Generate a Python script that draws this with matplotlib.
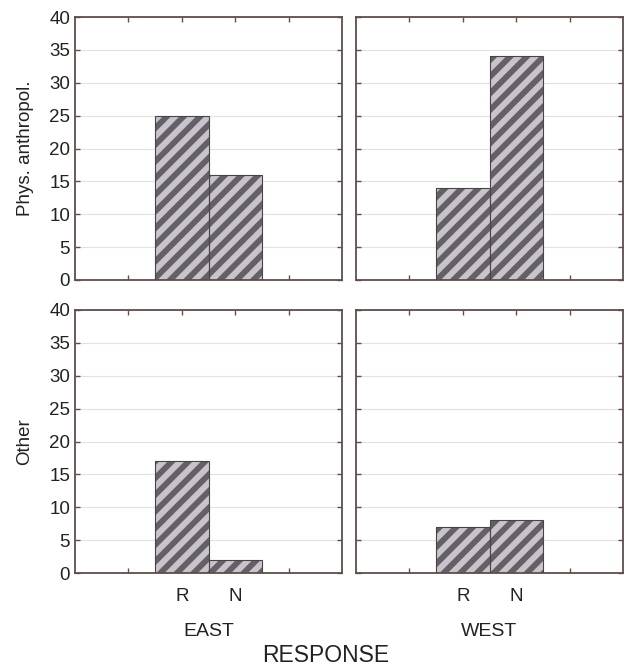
import matplotlib.pyplot as plt

plt.rcParams['font.family'] = ['Liberation Sans', 'DejaVu Sans']
plt.rcParams['hatch.linewidth'] = 4.2

# counts per response, by region (columns) and field (rows)
responses = ['R', 'N']
regions = ['EAST', 'WEST']
fields = ['Phys. anthropol.', 'Other']
phys_east = [25, 16]
phys_west = [14, 34]
other_east = [17, 2]
other_west = [7, 8]

counts = [[phys_east, phys_west], [other_east, other_west]]

spine_col = '#5e4f4b'
stripe_col = '#646068'
fill_col = '#cbc3cc'
text_col = '#222222'

fig = plt.figure(figsize=(6.29, 6.70), dpi=100)
lefts = [75 / 629, 356 / 629]
bottoms = [1 - 280 / 670, 1 - 573 / 670]
w = 267 / 629
h = 263 / 670

xpos = [2, 3]
for r in range(2):
    for c in range(2):
        ax = fig.add_axes([lefts[c], bottoms[r], w, h])
        vals = counts[r][c]
        # striped fill, then a thin outline on top
        ax.bar(xpos, vals, width=1.0, color=fill_col, edgecolor=stripe_col,
               hatch='//', linewidth=0, zorder=2)
        ax.bar(xpos, vals, width=1.0, fill=False, edgecolor='#4a4448',
               linewidth=0.8, zorder=3)
        ax.set_xlim(0, 5)
        ax.set_ylim(0, 40)
        ax.set_yticks(range(0, 41, 5))
        ax.set_xticks([1, 2, 3, 4])
        ax.yaxis.grid(True, color='#e2e2e2', linewidth=0.8, zorder=0)
        ax.set_axisbelow(True)
        for s in ax.spines.values():
            s.set_color(spine_col)
            s.set_linewidth(1.3)
        ax.tick_params(direction='in', length=3.5, width=1.0, color=spine_col,
                       top=True, right=True, labelsize=13.5, labelcolor=text_col)
        if r == 1:
            ax.set_xticklabels(['', responses[0], responses[1], ''])
            ax.tick_params(axis='x', pad=11, labelsize=13.5)
            ax.set_xlabel(regions[c], fontsize=14, color=text_col, labelpad=13)
        else:
            ax.set_xticklabels([])
        if c == 0:
            ax.set_ylabel(fields[r], fontsize=13.5, color=text_col)
            ax.yaxis.set_label_coords(-0.155, 0.5)
        else:
            ax.set_yticklabels([])

fig.text(0.517, 1 - 656 / 670, 'RESPONSE', ha='center', va='center',
         fontsize=16.5, color=text_col)

fig.savefig('out.png', dpi=100)
